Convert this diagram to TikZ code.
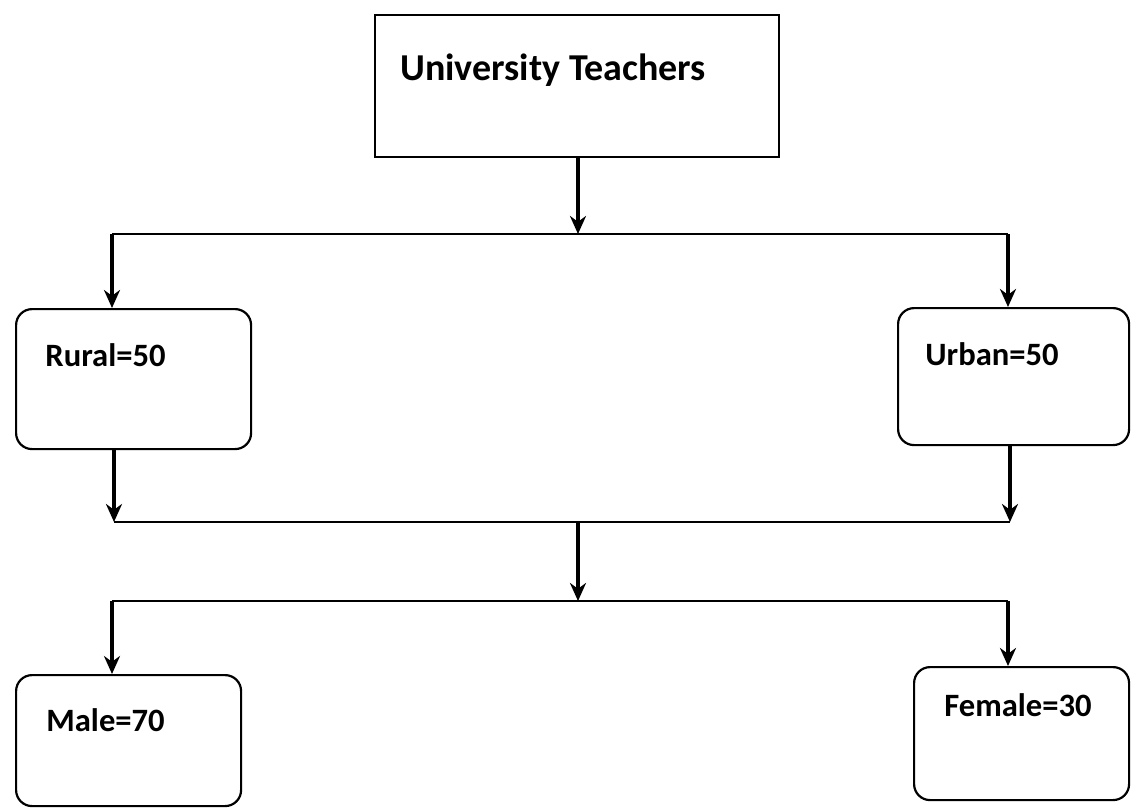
\documentclass[tikz,border=0pt]{standalone}
\usepackage{fontspec}
\setmainfont{Carlito}
\usetikzlibrary{arrows.meta,calc}
\tikzset{
  box/.style={draw=black, line width=1.1pt, rounded corners=8pt, anchor=north west, inner sep=0pt},
  topbox/.style={draw=black, line width=1.1pt, anchor=north west, inner sep=0pt},
  lbl/.style={anchor=west, font=\bfseries\fontsize{16.3}{19}\selectfont, inner sep=0pt},
  biglbl/.style={anchor=west, font=\bfseries\fontsize{19}{22}\selectfont, inner sep=0pt},
  arr/.style={line width=1.8pt, -{Stealth[length=9pt,width=8pt]}},
  bar/.style={line width=1.2pt}
}
\begin{document}
\begin{tikzpicture}[x=0.5pt,y=-0.5pt]
\useasboundingbox (0,0) rectangle (1132,809);
% boxes
\node[topbox, minimum width=404pt*0.5, minimum height=142pt*0.5] (top) at (374,14) {};
\node[box, minimum width=235pt*0.5, minimum height=140pt*0.5] (rural) at (15,308) {};
\node[box, minimum width=231pt*0.5, minimum height=137pt*0.5] (urban) at (897,307) {};
\node[box, minimum width=225pt*0.5, minimum height=131pt*0.5] (male) at (15,674) {};
\node[box, minimum width=215pt*0.5, minimum height=133pt*0.5] (female) at (913,666) {};
% labels
\node[biglbl] (ttop) at (400,70) {University Teachers};
\node[lbl] (trural) at (45,355) {Rural=50};
\node[lbl] (turban) at (925,354) {Urban=50};
\node[lbl] (tmale) at (46,720) {Male=70};
\node[lbl] (tfemale) at (944,705) {Female=30};
% bar coordinates
\coordinate (b1l) at (112,234);
\coordinate (b1m) at (578,234);
\coordinate (b1r) at (1008,234);
\coordinate (b2l) at (114,522);
\coordinate (b2m) at (578,522);
\coordinate (b2r) at (1010,522);
\coordinate (b3l) at (112,601);
\coordinate (b3m) at (578,601);
\coordinate (b3r) at (1008,601);
% bars
\draw[bar] (b1l) -- (b1r);
\draw[bar] (b2l) -- (b2r);
\draw[bar] (b3l) -- (b3r);
% arrows
\draw[arr] (top.south -| b1m) -- (b1m);
\draw[arr] (b1l) -- (b1l |- rural.north);
\draw[arr] (b1r) -- (b1r |- urban.north);
\draw[arr] (rural.south -| b2l) -- (b2l);
\draw[arr] (urban.south -| b2r) -- (b2r);
\draw[arr] (b2m) -- (b3m);
\draw[arr] (b3l) -- (b3l |- male.north);
\draw[arr] (b3r) -- (b3r |- female.north);
\end{tikzpicture}
\end{document}
